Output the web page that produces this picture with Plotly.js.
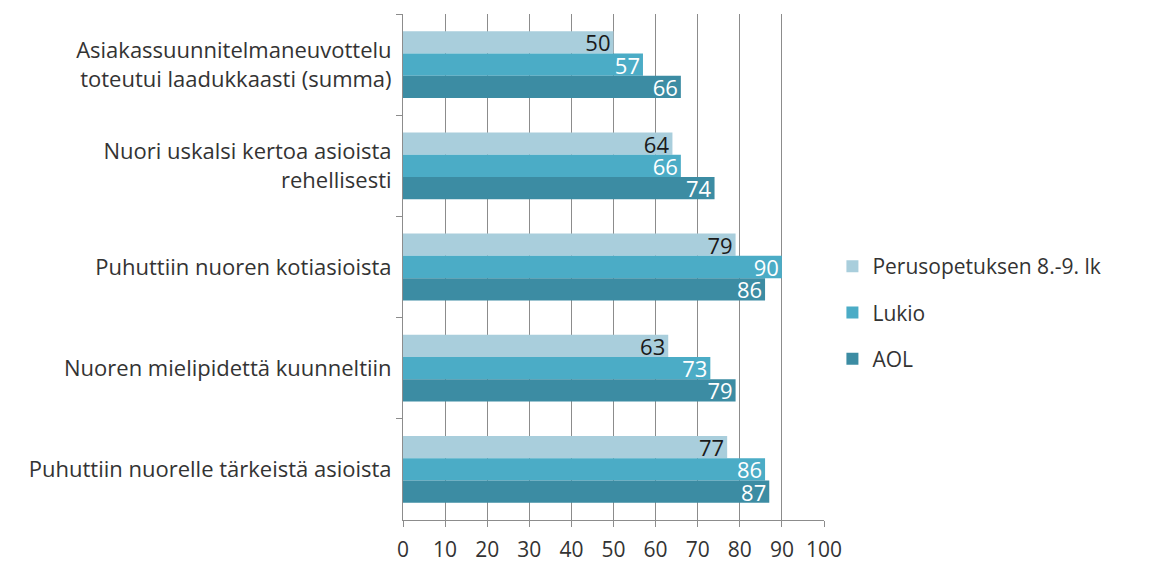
<!DOCTYPE html>
<html>
<head>
<meta charset="utf-8">
<script src="https://cdn.plot.ly/plotly-3.0.1.min.js"></script>
<style>
  html, body { margin: 0; padding: 0; background: #ffffff; }
  #chart { width: 1151px; height: 566px; }
</style>
</head>
<body>
<div id="chart"></div>
<script>
// Survey items (top to bottom)
const categories = [
  "Asiakassuunnitelmaneuvottelu<br>toteutui laadukkaasti (summa)",
  "Nuori uskalsi kertoa asioista<br>rehellisesti",
  "Puhuttiin nuoren kotiasioista",
  "Nuoren mielipidettä kuunneltiin",
  "Puhuttiin nuorelle tärkeistä asioista"
];

// Series names and values per item
const seriesNames = ["Perusopetuksen 8.-9. lk", "Lukio", "AOL"];
const perusopetus = [50, 64, 79, 63, 77];
const lukio = [57, 66, 90, 73, 86];
const aol = [66, 74, 86, 79, 87];

const xTicks = [0, 10, 20, 30, 40, 50, 60, 70, 80, 90, 100];

const colors = ["#A9CEDC", "#4BACC6", "#3C8CA3"];
const labelColors = ["#1a1a1a", "#ffffff", "#ffffff"];
const FONT = "'Open Sans', sans-serif";
const TEXT = "#333333";

const values = [perusopetus, lukio, aol];
const traces = values.map((vals, i) => ({
  type: "bar",
  orientation: "h",
  name: seriesNames[i],
  legendgroup: "g" + i,
  y: categories,
  x: vals,
  text: vals.map(String),
  textposition: "inside",
  insidetextanchor: "end",
  textangle: 0,
  constraintext: "none",
  textfont: { family: FONT, size: 22, color: labelColors[i] },
  marker: { color: colors[i], line: { width: 0 } },
  hoverinfo: "skip"
}));

const layout = {
  width: 1151,
  height: 566,
  margin: { l: 403, r: 327, t: 14, b: 46 },
  paper_bgcolor: "#ffffff",
  plot_bgcolor: "#ffffff",
  barmode: "group",
  bargap: 0.34,
  bargroupgap: 0,
  showlegend: true,
  legend: {
    x: 1.02, xanchor: "left",
    y: 0.41, yanchor: "middle",
    font: { family: FONT, size: 21, color: TEXT },
    traceorder: "grouped",
    tracegroupgap: 16,
    itemwidth: 30
  },
  xaxis: {
    range: [0, 100],
    tickvals: xTicks,
    ticktext: xTicks.map(String),
    showgrid: true,
    gridcolor: "#8c8c8c",
    gridwidth: 1,
    zeroline: false,
    showline: true,
    linecolor: "#8c8c8c",
    ticks: "outside",
    ticklen: 6,
    tickcolor: "#8c8c8c",
    tickfont: { family: FONT, size: 21, color: TEXT },
    ticklabelstandoff: 5,
    fixedrange: true
  },
  yaxis: {
    autorange: "reversed",
    type: "category",
    showgrid: false,
    showline: true,
    linecolor: "#8c8c8c",
    ticks: "outside",
    tickson: "boundaries",
    ticklen: 6,
    tickcolor: "#8c8c8c",
    tickfont: { family: FONT, size: 22, color: TEXT },
    ticklabelstandoff: 6,
    fixedrange: true
  }
};

Plotly.newPlot("chart", traces, layout, { staticPlot: true, displayModeBar: false });
</script>
</body>
</html>
